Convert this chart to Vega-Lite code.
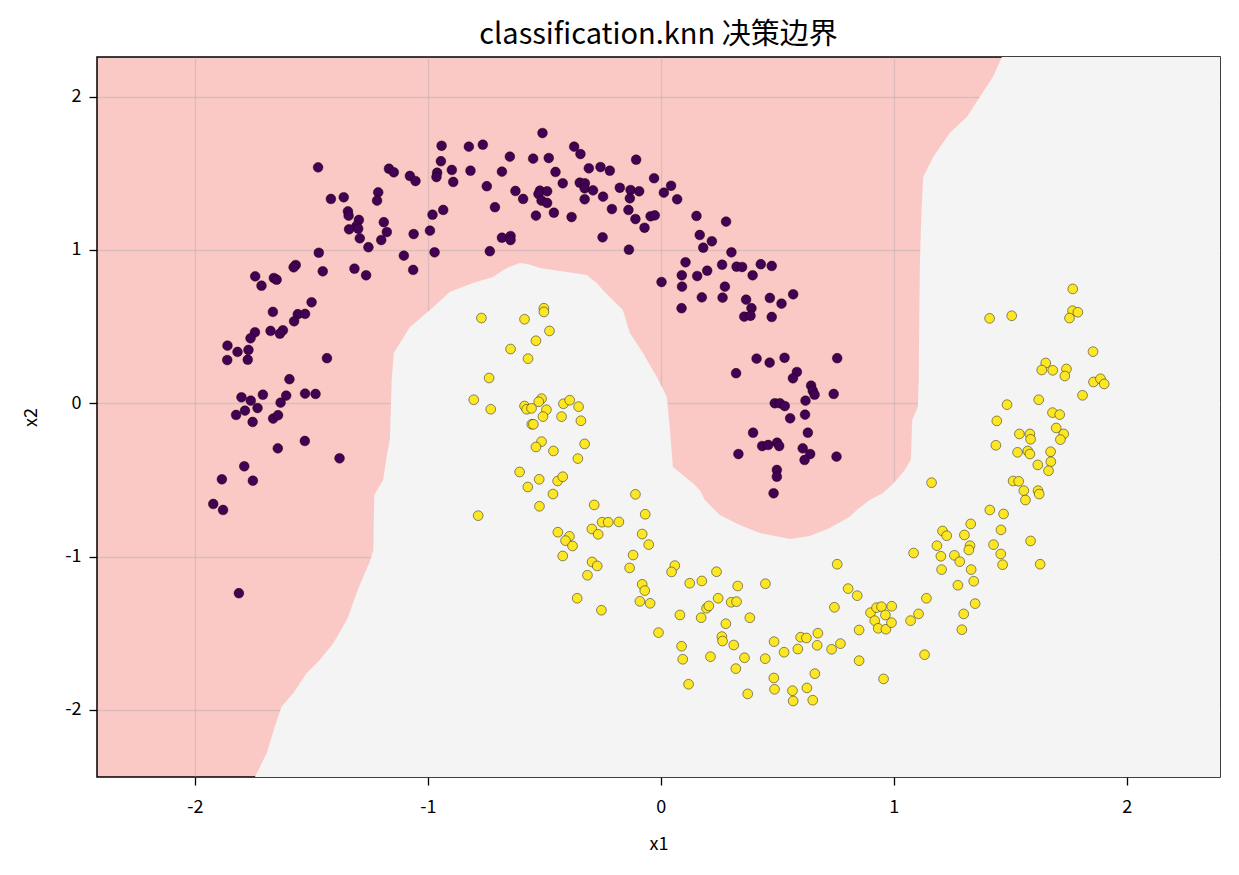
{
"$schema": "https://vega.github.io/schema/vega-lite/v6.json",
"autosize": {"type": "none"},
"padding": {"left": 97, "top": 57, "right": 19, "bottom": 98},
"width": 1123,
"height": 720,
"background": "white",
"title": {"text": "classification.knn 决策边界", "font": "Noto Sans CJK SC", "fontSize": 29, "fontWeight": "normal", "color": "black", "offset": 7},
"config": {
  "view": {"fill": "#fac9c5", "stroke": "black", "strokeWidth": 1.5},
  "axis": {"domain": false, "tickColor": "black", "tickSize": 8, "tickWidth": 1.3, "labelFont": "Noto Sans CJK SC", "labelFontSize": 18, "labelColor": "black", "labelExpr": "'' + datum.value", "titleFont": "Noto Sans CJK SC", "titleFontSize": 18, "titleFontWeight": "normal", "titleColor": "black", "gridColor": "#a8a8a8", "gridOpacity": 0.38, "gridWidth": 1.3, "zindex": 1}
},
"datasets": {
"boundary": [
{"bx": -1.742, "by": -2.438}, {"bx": -1.692, "by": -2.283}, {"bx": -1.657, "by": -2.110}, {"bx": -1.628, "by": -1.979}, {"bx": -1.578, "by": -1.892}, {"bx": -1.521, "by": -1.761}, {"bx": -1.464, "by": -1.675}, {"bx": -1.406, "by": -1.566}, {"bx": -1.364, "by": -1.457}, {"bx": -1.342, "by": -1.392}, {"bx": -1.306, "by": -1.237}, {"bx": -1.278, "by": -1.133}, {"bx": -1.249, "by": -1.033}, {"bx": -1.234, "by": -0.957}, {"bx": -1.232, "by": -0.768}, {"bx": -1.230, "by": -0.598}, {"bx": -1.192, "by": -0.500}, {"bx": -1.177, "by": -0.348}, {"bx": -1.163, "by": -0.239}, {"bx": -1.159, "by": -0.044}, {"bx": -1.155, "by": 0.152}, {"bx": -1.150, "by": 0.250}, {"bx": -1.146, "by": 0.328}, {"bx": -1.077, "by": 0.498}, {"bx": -0.991, "by": 0.609}, {"bx": -0.906, "by": 0.726}, {"bx": -0.807, "by": 0.785}, {"bx": -0.721, "by": 0.824}, {"bx": -0.661, "by": 0.883}, {"bx": -0.605, "by": 0.915}, {"bx": -0.571, "by": 0.909}, {"bx": -0.519, "by": 0.883}, {"bx": -0.318, "by": 0.837}, {"bx": -0.275, "by": 0.785}, {"bx": -0.245, "by": 0.733}, {"bx": -0.163, "by": 0.609}, {"bx": -0.133, "by": 0.459}, {"bx": -0.077, "by": 0.328}, {"bx": -0.017, "by": 0.172}, {"bx": 0.026, "by": 0.041}, {"bx": 0.039, "by": -0.174}, {"bx": 0.052, "by": -0.415}, {"bx": 0.137, "by": -0.520}, {"bx": 0.167, "by": -0.566}, {"bx": 0.189, "by": -0.631}, {"bx": 0.253, "by": -0.729}, {"bx": 0.339, "by": -0.794}, {"bx": 0.425, "by": -0.846}, {"bx": 0.554, "by": -0.885}, {"bx": 0.639, "by": -0.866}, {"bx": 0.725, "by": -0.813}, {"bx": 0.811, "by": -0.741}, {"bx": 0.841, "by": -0.696}, {"bx": 0.897, "by": -0.631}, {"bx": 0.953, "by": -0.585}, {"bx": 0.996, "by": -0.526}, {"bx": 1.047, "by": -0.435}, {"bx": 1.073, "by": -0.369}, {"bx": 1.079, "by": -0.109}, {"bx": 1.103, "by": -0.024}, {"bx": 1.107, "by": 0.152}, {"bx": 1.109, "by": 0.544}, {"bx": 1.112, "by": 0.915}, {"bx": 1.116, "by": 1.131}, {"bx": 1.119, "by": 1.261}, {"bx": 1.126, "by": 1.476}, {"bx": 1.169, "by": 1.607}, {"bx": 1.240, "by": 1.763}, {"bx": 1.313, "by": 1.868}, {"bx": 1.369, "by": 1.998}, {"bx": 1.425, "by": 2.129}, {"bx": 1.464, "by": 2.259}, {"bx": 2.40, "by": 2.259}
],
"points": [
{"x1": -1.471, "x2": 1.539, "label": 0}, {"x1": -0.941, "x2": 1.680, "label": 0}, {"x1": -0.944, "x2": 1.579, "label": 0}, {"x1": -1.167, "x2": 1.530, "label": 0}, {"x1": -1.146, "x2": 1.507, "label": 0}, {"x1": -1.077, "x2": 1.483, "label": 0}, {"x1": -1.053, "x2": 1.450, "label": 0}, {"x1": -0.960, "x2": 1.504, "label": 0}, {"x1": -0.963, "x2": 1.476, "label": 0}, {"x1": -0.897, "x2": 1.522, "label": 0},
{"x1": -1.416, "x2": 1.333, "label": 0}, {"x1": -1.361, "x2": 1.344, "label": 0}, {"x1": -1.213, "x2": 1.376, "label": 0}, {"x1": -1.218, "x2": 1.322, "label": 0}, {"x1": -1.343, "x2": 1.252, "label": 0}, {"x1": -1.340, "x2": 1.224, "label": 0}, {"x1": -1.296, "x2": 1.196, "label": 0}, {"x1": -1.306, "x2": 1.157, "label": 0}, {"x1": -1.338, "x2": 1.135, "label": 0}, {"x1": -1.299, "x2": 1.139, "label": 0},
{"x1": -1.292, "x2": 1.076, "label": 0}, {"x1": -1.255, "x2": 1.018, "label": 0}, {"x1": -1.189, "x2": 1.181, "label": 0}, {"x1": -1.176, "x2": 1.117, "label": 0}, {"x1": -1.200, "x2": 1.065, "label": 0}, {"x1": -1.061, "x2": 1.104, "label": 0}, {"x1": -0.991, "x2": 1.126, "label": 0}, {"x1": -0.980, "x2": 1.230, "label": 0}, {"x1": -0.934, "x2": 1.261, "label": 0}, {"x1": -1.103, "x2": 0.963, "label": 0},
{"x1": -1.063, "x2": 0.870, "label": 0}, {"x1": -0.971, "x2": 0.985, "label": 0}, {"x1": -1.468, "x2": 0.982, "label": 0}, {"x1": -1.451, "x2": 0.861, "label": 0}, {"x1": -1.315, "x2": 0.878, "label": 0}, {"x1": -1.265, "x2": 0.835, "label": 0}, {"x1": -1.567, "x2": 0.902, "label": 0}, {"x1": -1.576, "x2": 0.887, "label": 0}, {"x1": -1.741, "x2": 0.828, "label": 0}, {"x1": -1.714, "x2": 0.767, "label": 0},
{"x1": -1.661, "x2": 0.817, "label": 0}, {"x1": -1.649, "x2": 0.806, "label": 0}, {"x1": -1.499, "x2": 0.659, "label": 0}, {"x1": -1.665, "x2": 0.596, "label": 0}, {"x1": -1.558, "x2": 0.581, "label": 0}, {"x1": -1.527, "x2": 0.583, "label": 0}, {"x1": -1.574, "x2": 0.535, "label": 0}, {"x1": -1.742, "x2": 0.463, "label": 0}, {"x1": -1.761, "x2": 0.424, "label": 0}, {"x1": -1.675, "x2": 0.472, "label": 0},
{"x1": -1.622, "x2": 0.476, "label": 0}, {"x1": -1.635, "x2": 0.454, "label": 0}, {"x1": -1.860, "x2": 0.376, "label": 0}, {"x1": -1.817, "x2": 0.335, "label": 0}, {"x1": -1.770, "x2": 0.348, "label": 0}, {"x1": -1.861, "x2": 0.282, "label": 0}, {"x1": -1.773, "x2": 0.284, "label": 0}, {"x1": -1.433, "x2": 0.294, "label": 0}, {"x1": -1.594, "x2": 0.157, "label": 0}, {"x1": -1.800, "x2": 0.039, "label": 0},
{"x1": -1.760, "x2": 0.017, "label": 0}, {"x1": -1.708, "x2": 0.056, "label": 0}, {"x1": -1.785, "x2": -0.048, "label": 0}, {"x1": -1.731, "x2": -0.031, "label": 0}, {"x1": -1.823, "x2": -0.076, "label": 0}, {"x1": -1.752, "x2": -0.122, "label": 0}, {"x1": -1.632, "x2": 0.004, "label": 0}, {"x1": -1.608, "x2": 0.050, "label": 0}, {"x1": -1.664, "x2": -0.100, "label": 0}, {"x1": -1.643, "x2": -0.078, "label": 0},
{"x1": -1.527, "x2": 0.063, "label": 0}, {"x1": -1.482, "x2": 0.061, "label": 0}, {"x1": -1.528, "x2": -0.246, "label": 0}, {"x1": -1.644, "x2": -0.294, "label": 0}, {"x1": -1.379, "x2": -0.359, "label": 0}, {"x1": -1.788, "x2": -0.411, "label": 0}, {"x1": -1.884, "x2": -0.496, "label": 0}, {"x1": -1.751, "x2": -0.505, "label": 0}, {"x1": -1.921, "x2": -0.657, "label": 0}, {"x1": -1.879, "x2": -0.696, "label": 0},
{"x1": -1.811, "x2": -1.239, "label": 0}, {"x1": -0.824, "x2": 1.674, "label": 0}, {"x1": -0.764, "x2": 1.687, "label": 0}, {"x1": -0.508, "x2": 1.763, "label": 0}, {"x1": -0.891, "x2": 1.444, "label": 0}, {"x1": -0.817, "x2": 1.517, "label": 0}, {"x1": -0.648, "x2": 1.609, "label": 0}, {"x1": -0.682, "x2": 1.511, "label": 0}, {"x1": -0.548, "x2": 1.596, "label": 0}, {"x1": -0.481, "x2": 1.600, "label": 0},
{"x1": -0.452, "x2": 1.509, "label": 0}, {"x1": -0.372, "x2": 1.674, "label": 0}, {"x1": -0.345, "x2": 1.626, "label": 0}, {"x1": -0.747, "x2": 1.416, "label": 0}, {"x1": -0.421, "x2": 1.435, "label": 0}, {"x1": -0.624, "x2": 1.385, "label": 0}, {"x1": -0.591, "x2": 1.333, "label": 0}, {"x1": -0.519, "x2": 1.387, "label": 0}, {"x1": -0.488, "x2": 1.383, "label": 0}, {"x1": -0.525, "x2": 1.365, "label": 0},
{"x1": -0.512, "x2": 1.322, "label": 0}, {"x1": -0.488, "x2": 1.307, "label": 0}, {"x1": -0.536, "x2": 1.224, "label": 0}, {"x1": -0.459, "x2": 1.243, "label": 0}, {"x1": -0.383, "x2": 1.215, "label": 0}, {"x1": -0.712, "x2": 1.279, "label": 0}, {"x1": -0.309, "x2": 1.533, "label": 0}, {"x1": -0.259, "x2": 1.541, "label": 0}, {"x1": -0.219, "x2": 1.517, "label": 0}, {"x1": -0.348, "x2": 1.439, "label": 0},
{"x1": -0.326, "x2": 1.435, "label": 0}, {"x1": -0.327, "x2": 1.402, "label": 0}, {"x1": -0.291, "x2": 1.389, "label": 0}, {"x1": -0.248, "x2": 1.348, "label": 0}, {"x1": -0.327, "x2": 1.331, "label": 0}, {"x1": -0.210, "x2": 1.267, "label": 0}, {"x1": -0.106, "x2": 1.589, "label": 0}, {"x1": -0.029, "x2": 1.468, "label": 0}, {"x1": -0.176, "x2": 1.406, "label": 0}, {"x1": -0.130, "x2": 1.391, "label": 0},
{"x1": -0.093, "x2": 1.383, "label": 0}, {"x1": -0.133, "x2": 1.337, "label": 0}, {"x1": -0.139, "x2": 1.261, "label": 0}, {"x1": -0.109, "x2": 1.202, "label": 0}, {"x1": -0.070, "x2": 1.145, "label": 0}, {"x1": -0.044, "x2": 1.220, "label": 0}, {"x1": -0.026, "x2": 1.226, "label": 0}, {"x1": 0.013, "x2": 1.374, "label": 0}, {"x1": 0.044, "x2": 1.419, "label": 0}, {"x1": 0.070, "x2": 1.331, "label": 0},
{"x1": -0.250, "x2": 1.083, "label": 0}, {"x1": -0.137, "x2": 1.002, "label": 0}, {"x1": -0.682, "x2": 1.080, "label": 0}, {"x1": -0.645, "x2": 1.091, "label": 0}, {"x1": -0.645, "x2": 1.065, "label": 0}, {"x1": -0.734, "x2": 0.992, "label": 0}, {"x1": 0.153, "x2": 1.222, "label": 0}, {"x1": 0.167, "x2": 1.098, "label": 0}, {"x1": 0.106, "x2": 0.920, "label": 0}, {"x1": 0.090, "x2": 0.835, "label": 0},
{"x1": 0.156, "x2": 0.830, "label": 0}, {"x1": 0.091, "x2": 0.761, "label": 0}, {"x1": 0.003, "x2": 0.791, "label": 0}, {"x1": 0.280, "x2": 1.185, "label": 0}, {"x1": 0.219, "x2": 1.057, "label": 0}, {"x1": 0.182, "x2": 1.015, "label": 0}, {"x1": 0.303, "x2": 0.985, "label": 0}, {"x1": 0.089, "x2": 0.620, "label": 0}, {"x1": 0.199, "x2": 0.865, "label": 0}, {"x1": 0.263, "x2": 0.904, "label": 0},
{"x1": 0.325, "x2": 0.891, "label": 0}, {"x1": 0.349, "x2": 0.889, "label": 0}, {"x1": 0.394, "x2": 0.835, "label": 0}, {"x1": 0.429, "x2": 0.907, "label": 0}, {"x1": 0.476, "x2": 0.896, "label": 0}, {"x1": 0.275, "x2": 0.761, "label": 0}, {"x1": 0.176, "x2": 0.691, "label": 0}, {"x1": 0.265, "x2": 0.689, "label": 0}, {"x1": 0.366, "x2": 0.676, "label": 0}, {"x1": 0.389, "x2": 0.620, "label": 0},
{"x1": 0.358, "x2": 0.565, "label": 0}, {"x1": 0.385, "x2": 0.571, "label": 0}, {"x1": 0.468, "x2": 0.687, "label": 0}, {"x1": 0.518, "x2": 0.650, "label": 0}, {"x1": 0.568, "x2": 0.711, "label": 0}, {"x1": 0.476, "x2": 0.563, "label": 0}, {"x1": 0.411, "x2": 0.291, "label": 0}, {"x1": 0.467, "x2": 0.265, "label": 0}, {"x1": 0.531, "x2": 0.297, "label": 0}, {"x1": 0.323, "x2": 0.196, "label": 0},
{"x1": 0.584, "x2": 0.204, "label": 0}, {"x1": 0.567, "x2": 0.163, "label": 0}, {"x1": 0.645, "x2": 0.115, "label": 0}, {"x1": 0.652, "x2": 0.082, "label": 0}, {"x1": 0.660, "x2": 0.056, "label": 0}, {"x1": 0.757, "x2": 0.294, "label": 0}, {"x1": 0.742, "x2": 0.061, "label": 0}, {"x1": 0.621, "x2": 0.017, "label": 0}, {"x1": 0.489, "x2": 0.000, "label": 0}, {"x1": 0.511, "x2": 0.000, "label": 0},
{"x1": 0.532, "x2": -0.018, "label": 0}, {"x1": 0.555, "x2": -0.098, "label": 0}, {"x1": 0.619, "x2": -0.074, "label": 0}, {"x1": 0.396, "x2": -0.192, "label": 0}, {"x1": 0.631, "x2": -0.192, "label": 0}, {"x1": 0.435, "x2": -0.279, "label": 0}, {"x1": 0.461, "x2": -0.272, "label": 0}, {"x1": 0.499, "x2": -0.257, "label": 0}, {"x1": 0.508, "x2": -0.279, "label": 0}, {"x1": 0.333, "x2": -0.331, "label": 0},
{"x1": 0.609, "x2": -0.294, "label": 0}, {"x1": 0.641, "x2": -0.331, "label": 0}, {"x1": 0.617, "x2": -0.370, "label": 0}, {"x1": 0.754, "x2": -0.348, "label": 0}, {"x1": 0.498, "x2": -0.435, "label": 0}, {"x1": 0.498, "x2": -0.479, "label": 0}, {"x1": 0.484, "x2": -0.587, "label": 0},
{"x1": -0.770, "x2": 0.556, "label": 1}, {"x1": -0.585, "x2": 0.548, "label": 1}, {"x1": -0.502, "x2": 0.620, "label": 1}, {"x1": -0.502, "x2": 0.596, "label": 1}, {"x1": -0.478, "x2": 0.472, "label": 1}, {"x1": -0.536, "x2": 0.408, "label": 1}, {"x1": -0.645, "x2": 0.354, "label": 1}, {"x1": -0.570, "x2": 0.291, "label": 1}, {"x1": -0.737, "x2": 0.165, "label": 1}, {"x1": -0.803, "x2": 0.023, "label": 1},
{"x1": -0.730, "x2": -0.039, "label": 1}, {"x1": -0.585, "x2": -0.018, "label": 1}, {"x1": -0.576, "x2": -0.039, "label": 1}, {"x1": -0.555, "x2": -0.033, "label": 1}, {"x1": -0.512, "x2": 0.030, "label": 1}, {"x1": -0.524, "x2": 0.010, "label": 1}, {"x1": -0.491, "x2": -0.042, "label": 1}, {"x1": -0.506, "x2": -0.087, "label": 1}, {"x1": -0.554, "x2": -0.137, "label": 1}, {"x1": -0.547, "x2": -0.137, "label": 1},
{"x1": -0.418, "x2": -0.003, "label": 1}, {"x1": -0.391, "x2": 0.020, "label": 1}, {"x1": -0.353, "x2": -0.022, "label": 1}, {"x1": -0.426, "x2": -0.087, "label": 1}, {"x1": -0.343, "x2": -0.114, "label": 1}, {"x1": -0.512, "x2": -0.250, "label": 1}, {"x1": -0.536, "x2": -0.285, "label": 1}, {"x1": -0.461, "x2": -0.311, "label": 1}, {"x1": -0.327, "x2": -0.265, "label": 1}, {"x1": -0.356, "x2": -0.361, "label": 1},
{"x1": -0.606, "x2": -0.448, "label": 1}, {"x1": -0.522, "x2": -0.496, "label": 1}, {"x1": -0.571, "x2": -0.546, "label": 1}, {"x1": -0.443, "x2": -0.507, "label": 1}, {"x1": -0.421, "x2": -0.479, "label": 1}, {"x1": -0.463, "x2": -0.592, "label": 1}, {"x1": -0.521, "x2": -0.672, "label": 1}, {"x1": -0.784, "x2": -0.733, "label": 1}, {"x1": -0.286, "x2": -0.663, "label": 1}, {"x1": -0.109, "x2": -0.594, "label": 1},
{"x1": -0.067, "x2": -0.724, "label": 1}, {"x1": -0.252, "x2": -0.776, "label": 1}, {"x1": -0.226, "x2": -0.776, "label": 1}, {"x1": -0.180, "x2": -0.774, "label": 1}, {"x1": -0.296, "x2": -0.820, "label": 1}, {"x1": -0.269, "x2": -0.855, "label": 1}, {"x1": -0.442, "x2": -0.841, "label": 1}, {"x1": -0.392, "x2": -0.868, "label": 1}, {"x1": -0.409, "x2": -0.896, "label": 1}, {"x1": -0.379, "x2": -0.931, "label": 1},
{"x1": -0.080, "x2": -0.853, "label": 1}, {"x1": -0.052, "x2": -0.922, "label": 1}, {"x1": -0.421, "x2": -0.996, "label": 1}, {"x1": -0.119, "x2": -0.990, "label": 1}, {"x1": -0.295, "x2": -1.035, "label": 1}, {"x1": -0.134, "x2": -1.074, "label": 1}, {"x1": -0.273, "x2": -1.061, "label": 1}, {"x1": -0.315, "x2": -1.122, "label": 1}, {"x1": -0.359, "x2": -1.272, "label": 1}, {"x1": -0.255, "x2": -1.350, "label": 1},
{"x1": -0.080, "x2": -1.181, "label": 1}, {"x1": -0.069, "x2": -1.222, "label": 1}, {"x1": -0.090, "x2": -1.292, "label": 1}, {"x1": -0.046, "x2": -1.305, "label": 1}, {"x1": 0.060, "x2": -1.059, "label": 1}, {"x1": 0.046, "x2": -1.100, "label": 1}, {"x1": -0.010, "x2": -1.496, "label": 1}, {"x1": 0.124, "x2": -1.174, "label": 1}, {"x1": 0.176, "x2": -1.159, "label": 1}, {"x1": 0.239, "x2": -1.099, "label": 1},
{"x1": 0.330, "x2": -1.192, "label": 1}, {"x1": 0.449, "x2": -1.177, "label": 1}, {"x1": 0.082, "x2": -1.381, "label": 1}, {"x1": 0.173, "x2": -1.399, "label": 1}, {"x1": 0.196, "x2": -1.337, "label": 1}, {"x1": 0.206, "x2": -1.322, "label": 1}, {"x1": 0.246, "x2": -1.272, "label": 1}, {"x1": 0.302, "x2": -1.298, "label": 1}, {"x1": 0.325, "x2": -1.294, "label": 1}, {"x1": 0.382, "x2": -1.399, "label": 1},
{"x1": 0.279, "x2": -1.438, "label": 1}, {"x1": 0.262, "x2": -1.522, "label": 1}, {"x1": 0.265, "x2": -1.551, "label": 1}, {"x1": 0.313, "x2": -1.577, "label": 1}, {"x1": 0.089, "x2": -1.585, "label": 1}, {"x1": 0.094, "x2": -1.670, "label": 1}, {"x1": 0.213, "x2": -1.653, "label": 1}, {"x1": 0.359, "x2": -1.660, "label": 1}, {"x1": 0.322, "x2": -1.731, "label": 1}, {"x1": 0.119, "x2": -1.833, "label": 1},
{"x1": 0.373, "x2": -1.896, "label": 1}, {"x1": 0.448, "x2": -1.666, "label": 1}, {"x1": 0.486, "x2": -1.555, "label": 1}, {"x1": 0.529, "x2": -1.624, "label": 1}, {"x1": 0.588, "x2": -1.603, "label": 1}, {"x1": 0.600, "x2": -1.526, "label": 1}, {"x1": 0.625, "x2": -1.531, "label": 1}, {"x1": 0.674, "x2": -1.500, "label": 1}, {"x1": 0.671, "x2": -1.579, "label": 1}, {"x1": 0.733, "x2": -1.605, "label": 1},
{"x1": 0.771, "x2": -1.568, "label": 1}, {"x1": 0.485, "x2": -1.792, "label": 1}, {"x1": 0.488, "x2": -1.866, "label": 1}, {"x1": 0.565, "x2": -1.875, "label": 1}, {"x1": 0.568, "x2": -1.942, "label": 1}, {"x1": 0.627, "x2": -1.857, "label": 1}, {"x1": 0.652, "x2": -1.937, "label": 1}, {"x1": 0.661, "x2": -1.764, "label": 1}, {"x1": 0.757, "x2": -1.050, "label": 1}, {"x1": 0.745, "x2": -1.331, "label": 1},
{"x1": 0.804, "x2": -1.209, "label": 1}, {"x1": 0.843, "x2": -1.255, "label": 1}, {"x1": 0.851, "x2": -1.479, "label": 1}, {"x1": 0.851, "x2": -1.679, "label": 1}, {"x1": 0.956, "x2": -1.798, "label": 1}, {"x1": 1.085, "x2": -0.977, "label": 1}, {"x1": 0.900, "x2": -1.366, "label": 1}, {"x1": 0.926, "x2": -1.333, "label": 1}, {"x1": 0.947, "x2": -1.327, "label": 1}, {"x1": 0.991, "x2": -1.324, "label": 1},
{"x1": 0.964, "x2": -1.381, "label": 1}, {"x1": 0.918, "x2": -1.418, "label": 1}, {"x1": 0.933, "x2": -1.468, "label": 1}, {"x1": 0.966, "x2": -1.474, "label": 1}, {"x1": 0.990, "x2": -1.431, "label": 1}, {"x1": 1.140, "x2": -1.272, "label": 1}, {"x1": 1.106, "x2": -1.374, "label": 1}, {"x1": 1.072, "x2": -1.418, "label": 1}, {"x1": 1.132, "x2": -1.640, "label": 1}, {"x1": 1.185, "x2": -0.929, "label": 1},
{"x1": 1.202, "x2": -0.998, "label": 1}, {"x1": 1.205, "x2": -1.085, "label": 1}, {"x1": 1.260, "x2": -0.992, "label": 1}, {"x1": 1.283, "x2": -1.033, "label": 1}, {"x1": 1.327, "x2": -0.929, "label": 1}, {"x1": 1.322, "x2": -0.957, "label": 1}, {"x1": 1.332, "x2": -1.085, "label": 1}, {"x1": 1.343, "x2": -1.161, "label": 1}, {"x1": 1.275, "x2": -1.187, "label": 1}, {"x1": 1.349, "x2": -1.307, "label": 1},
{"x1": 1.300, "x2": -1.374, "label": 1}, {"x1": 1.292, "x2": -1.477, "label": 1}, {"x1": 1.428, "x2": -0.922, "label": 1}, {"x1": 1.459, "x2": -0.983, "label": 1}, {"x1": 1.467, "x2": -1.053, "label": 1}, {"x1": 1.587, "x2": -0.898, "label": 1}, {"x1": 1.628, "x2": -1.050, "label": 1}, {"x1": 1.768, "x2": 0.746, "label": 1}, {"x1": 1.411, "x2": 0.554, "label": 1}, {"x1": 1.506, "x2": 0.571, "label": 1},
{"x1": 1.767, "x2": 0.604, "label": 1}, {"x1": 1.790, "x2": 0.594, "label": 1}, {"x1": 1.754, "x2": 0.556, "label": 1}, {"x1": 1.855, "x2": 0.337, "label": 1}, {"x1": 1.652, "x2": 0.263, "label": 1}, {"x1": 1.635, "x2": 0.217, "label": 1}, {"x1": 1.682, "x2": 0.215, "label": 1}, {"x1": 1.741, "x2": 0.224, "label": 1}, {"x1": 1.734, "x2": 0.178, "label": 1}, {"x1": 1.857, "x2": 0.139, "label": 1},
{"x1": 1.887, "x2": 0.160, "label": 1}, {"x1": 1.903, "x2": 0.126, "label": 1}, {"x1": 1.810, "x2": 0.052, "label": 1}, {"x1": 1.622, "x2": 0.023, "label": 1}, {"x1": 1.486, "x2": -0.009, "label": 1}, {"x1": 1.442, "x2": -0.115, "label": 1}, {"x1": 1.681, "x2": -0.061, "label": 1}, {"x1": 1.712, "x2": -0.074, "label": 1}, {"x1": 1.697, "x2": -0.161, "label": 1}, {"x1": 1.729, "x2": -0.200, "label": 1},
{"x1": 1.715, "x2": -0.237, "label": 1}, {"x1": 1.539, "x2": -0.200, "label": 1}, {"x1": 1.584, "x2": -0.200, "label": 1}, {"x1": 1.587, "x2": -0.235, "label": 1}, {"x1": 1.438, "x2": -0.274, "label": 1}, {"x1": 1.531, "x2": -0.320, "label": 1}, {"x1": 1.575, "x2": -0.311, "label": 1}, {"x1": 1.584, "x2": -0.331, "label": 1}, {"x1": 1.673, "x2": -0.316, "label": 1}, {"x1": 1.674, "x2": -0.381, "label": 1},
{"x1": 1.618, "x2": -0.402, "label": 1}, {"x1": 1.664, "x2": -0.440, "label": 1}, {"x1": 1.162, "x2": -0.518, "label": 1}, {"x1": 1.512, "x2": -0.507, "label": 1}, {"x1": 1.536, "x2": -0.509, "label": 1}, {"x1": 1.558, "x2": -0.570, "label": 1}, {"x1": 1.565, "x2": -0.631, "label": 1}, {"x1": 1.619, "x2": -0.570, "label": 1}, {"x1": 1.624, "x2": -0.592, "label": 1}, {"x1": 1.412, "x2": -0.696, "label": 1},
{"x1": 1.471, "x2": -0.722, "label": 1}, {"x1": 1.460, "x2": -0.826, "label": 1}, {"x1": 1.330, "x2": -0.787, "label": 1}, {"x1": 1.303, "x2": -0.859, "label": 1}, {"x1": 1.209, "x2": -0.833, "label": 1}, {"x1": 1.227, "x2": -0.864, "label": 1}
]
},
"layer": [
{
  "data": {"name": "boundary"},
  "mark": {"type": "area", "color": "#f4f4f4", "interpolate": "linear", "clip": true},
  "encoding": {
    "x": {"field": "bx", "type": "quantitative", "scale": {"domain": [-2.42, 2.40], "nice": false, "zero": false}, "axis": {"values": [-2, -1, 0, 1, 2], "title": "x1", "labelPadding": 13, "titlePadding": 19}},
    "y": {"field": "by", "type": "quantitative", "scale": {"domain": [-2.438, 2.259], "nice": false, "zero": false}, "axis": {"values": [-2, -1, 0, 1, 2], "title": "x2", "labelPadding": 8, "titlePadding": 24}},
    "y2": {"datum": -2.438}
  }
},
{
  "data": {"name": "points"},
  "mark": {"type": "circle", "size": 95, "opacity": 1, "stroke": "black", "strokeWidth": 0.6, "strokeOpacity": 0.75},
  "encoding": {
    "x": {"field": "x1", "type": "quantitative"},
    "y": {"field": "x2", "type": "quantitative"},
    "color": {"field": "label", "type": "nominal", "scale": {"domain": [0, 1], "range": ["#440154", "#fde725"]}, "legend": null}
  }
}
]
}
